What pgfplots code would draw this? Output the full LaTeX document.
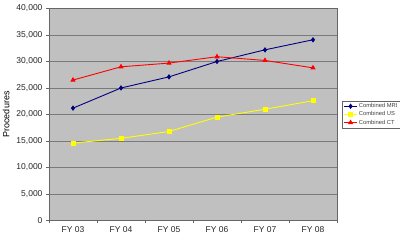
\documentclass[border=0pt]{standalone}
\usepackage{pgfplots}
\pgfplotsset{compat=1.18}
\usepackage{fontspec}
\setmainfont{Liberation Sans}
\definecolor{plotbg}{HTML}{C0C0C0}
\definecolor{gridc}{HTML}{7A7A7A}
\definecolor{mri}{HTML}{000080}
\definecolor{usc}{HTML}{FFFF00}
\definecolor{ctc}{HTML}{FF0000}
\begin{document}
\begin{tikzpicture}
\begin{axis}[
  name=ax,
  at={(0,0)}, anchor=south west,
  scale only axis,
  width=288pt, height=212pt,
  xmin=-0.5, xmax=5.5,
  ymin=0, ymax=40000,
  xtick={0,1,2,3,4,5},
  xticklabels={FY 03,FY 04,FY 05,FY 06,FY 07,FY 08},
  minor xtick={-0.5,0.5,1.5,2.5,3.5,4.5,5.5},
  major x tick style={draw=none},
  ytick={0,5000,...,40000},
  scaled y ticks=false,
  yticklabel style={/pgf/number format/.cd,fixed,1000 sep={,},assume math mode=true},
  /pgf/number format/assume math mode=true,
  ticklabel style={font=\fontsize{8.5}{10}\selectfont, text=black!85},
  tick align=outside,
  major tick length=3pt, minor tick length=3pt,
  tick style={gray!80!black, line width=0.6pt},
  xtick pos=bottom, ytick pos=left,
  ymajorgrids, grid style={gridc, line width=0.6pt},
  axis background/.style={fill=plotbg},
  axis line style={gray!80!black, line width=0.6pt},
  ylabel={Procedures},
  ylabel style={font=\fontsize{9}{10}\selectfont, at={(axis description cs:-0.149,0.5)}, anchor=center},
  legend style={at={(rel axis cs:1.016,0.565)}, anchor=north west,
    font=\fontsize{5.8}{7}\selectfont, draw=gray!80!black, line width=0.4pt,
    inner sep=1.5pt, row sep=0.5pt, text=black!75,
    nodes={inner sep=1pt}},
  legend image code/.code={\draw[mark repeat=2,mark phase=2] plot coordinates {(0cm,0cm)(0.24cm,0cm)(0.48cm,0cm)};},
  legend cell align=left,
  every axis plot/.append style={line width=0.9pt},
  clip=false,
]
\addplot[mri, mark=diamond*, mark size=2pt] coordinates {
 (0,21200) (1,25000) (2,27100) (3,30000) (4,32200) (5,34100)};
\addlegendentry{Combined MRI}
\addplot[usc, mark=square*, mark size=2pt] coordinates {
 (0,14600) (1,15500) (2,16800) (3,19500) (4,21000) (5,22600)};
\addlegendentry{Combined US}
\addplot[ctc, mark=triangle*, mark size=2.2pt] coordinates {
 (0,26500) (1,29000) (2,29700) (3,30900) (4,30200) (5,28800)};
\addlegendentry{Combined CT}
\end{axis}
\pgfresetboundingbox
\path (ax.south west) ++(-49pt,-20.5pt) rectangle ++(400pt,241pt);
\end{tikzpicture}
\end{document}
